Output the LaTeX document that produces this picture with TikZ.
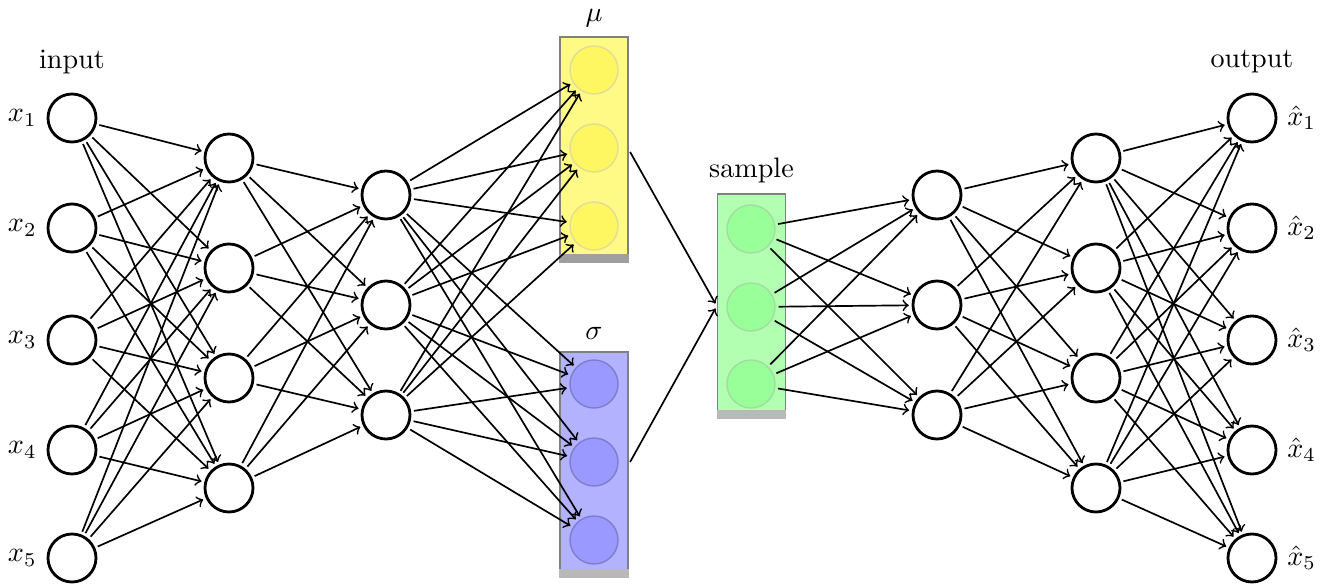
\documentclass[tikz,border=0pt]{standalone}
\usepackage{amsmath,amssymb}
\usepackage{tikz}

\tikzset{
  neuron/.style={circle, draw, line width=1pt, minimum size=0.6cm, inner sep=0pt},
  ghost/.style={circle, minimum size=0.6cm, inner sep=0pt, line width=0.5pt},
  layerbox/.style={rectangle, draw=gray, line width=0.5pt, minimum width=0.85cm, minimum height=2.81cm, inner sep=0pt},
  link/.style={->, line width=0.6pt, shorten >=1pt, shorten <=1pt},
}

\begin{document}
\begin{tikzpicture}[x=0.0125cm, y=-0.0125cm]
    \useasboundingbox (0,0) rectangle (1325,584);

    % encoder
    \node[neuron, label=left:$x_1$] (i1) at (72, 118) {};
    \node[neuron, label=left:$x_2$] (i2) at (72, 228) {};
    \node[neuron, label=left:$x_3$] (i3) at (72, 340) {};
    \node[neuron, label=left:$x_4$] (i4) at (72, 450) {};
    \node[neuron, label=left:$x_5$] (i5) at (72, 558) {};
    \node (inlabel) at (72, 62) {input};

    \node[neuron] (a1) at (229, 158) {};
    \node[neuron] (a2) at (229, 268) {};
    \node[neuron] (a3) at (229, 378) {};
    \node[neuron] (a4) at (229, 488) {};

    \node[neuron] (b1) at (386, 195) {};
    \node[neuron] (b2) at (386, 305) {};
    \node[neuron] (b3) at (386, 415) {};

    % latent boxes
    \node[layerbox, fill=yellow!48] (mu) at (594, 149.5) {};
    \fill[gray!75] ([yshift=0.11cm]mu.south west) rectangle (mu.south east);
    \node (mulabel) at (594, 18) {$\mu$};
    \node[ghost, fill=yellow!62, draw=yellow!55!gray!60] (m1) at (594, 70) {};
    \node[ghost, fill=yellow!62, draw=yellow!55!gray!60] (m2) at (594, 148) {};
    \node[ghost, fill=yellow!62, draw=yellow!55!gray!60] (m3) at (594, 226) {};

    \node[layerbox, fill=blue!30] (sigma) at (594, 464.5) {};
    \fill[gray!55] ([yshift=0.11cm]sigma.south west) rectangle (sigma.south east);
    \node (sigmalabel) at (594, 333) {$\sigma$};
    \node[ghost, fill=blue!40, draw=blue!45!gray!70] (s1) at (594, 384) {};
    \node[ghost, fill=blue!40, draw=blue!45!gray!70] (s2) at (594, 462) {};
    \node[ghost, fill=blue!40, draw=blue!45!gray!70] (s3) at (594, 540) {};

    \node[layerbox, fill=green!30, minimum height=2.8cm] (sample) at (751.5, 306) {};
    \fill[gray!55] ([yshift=0.11cm]sample.south west) rectangle (sample.south east);
    \node (samplelabel) at (751.5, 170) {sample};
    \node[ghost, fill=green!40, draw=green!45!gray!50] (z1) at (751, 229) {};
    \node[ghost, fill=green!40, draw=green!45!gray!50] (z2) at (751, 307) {};
    \node[ghost, fill=green!40, draw=green!45!gray!50] (z3) at (751, 384) {};

    % decoder
    \node[neuron] (c1) at (937, 195) {};
    \node[neuron] (c2) at (937, 305) {};
    \node[neuron] (c3) at (937, 415) {};

    \node[neuron] (d1) at (1096, 158) {};
    \node[neuron] (d2) at (1096, 268) {};
    \node[neuron] (d3) at (1096, 378) {};
    \node[neuron] (d4) at (1096, 488) {};

    \node[neuron, label=right:$\hat{x}_1$] (o1) at (1252, 118) {};
    \node[neuron, label=right:$\hat{x}_2$] (o2) at (1252, 228) {};
    \node[neuron, label=right:$\hat{x}_3$] (o3) at (1252, 340) {};
    \node[neuron, label=right:$\hat{x}_4$] (o4) at (1252, 450) {};
    \node[neuron, label=right:$\hat{x}_5$] (o5) at (1252, 558) {};
    \node (outlabel) at (1252, 62) {output};

    % connections
    \foreach \s in {1,...,5} \foreach \t in {1,...,4} \draw[link] (i\s) -- (a\t);
    \foreach \s in {1,...,4} \foreach \t in {1,2,3} \draw[link] (a\s) -- (b\t);
    \foreach \s in {1,2,3} \foreach \t in {m1,m2,m3,s1,s2,s3} \draw[link] (b\s) -- (\t);
    \draw[link] (mu.east) -- (sample.west);
    \draw[link] (sigma.east) -- (sample.west);
    \foreach \s in {1,2,3} \foreach \t in {1,2,3} \draw[link] (z\s) -- (c\t);
    \foreach \s in {1,2,3} \foreach \t in {1,...,4} \draw[link] (c\s) -- (d\t);
    \foreach \s in {1,...,4} \foreach \t in {1,...,5} \draw[link] (d\s) -- (o\t);

\end{tikzpicture}
\end{document}
